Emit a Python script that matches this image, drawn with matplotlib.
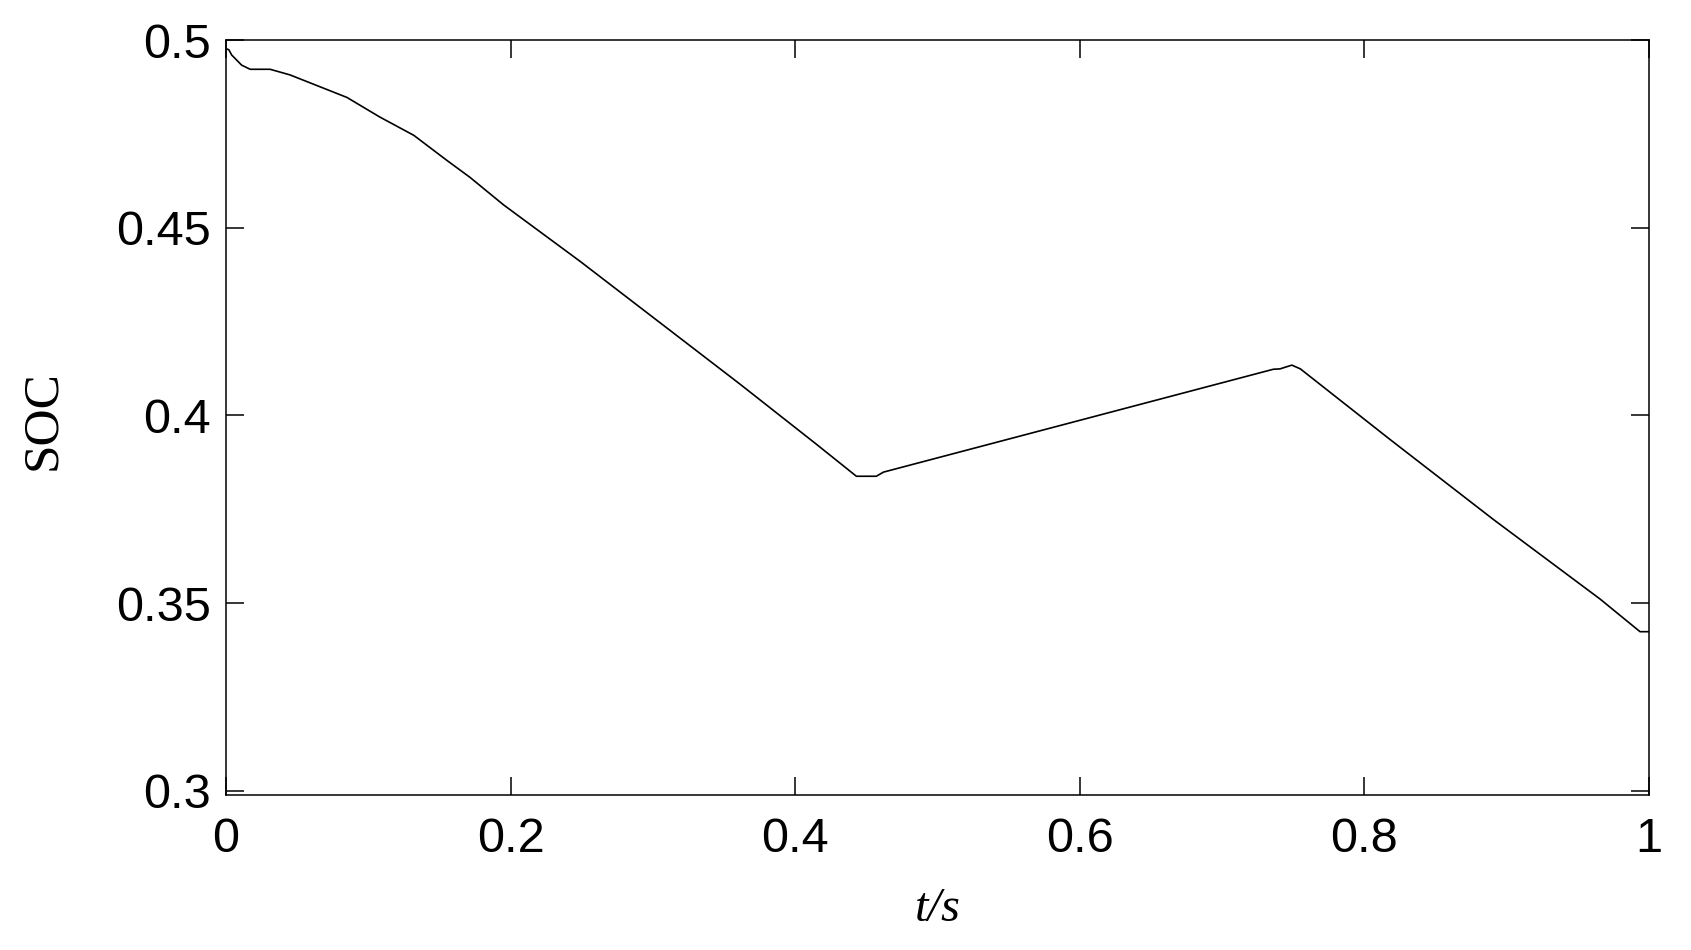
import matplotlib
matplotlib.use("Agg")
import matplotlib.pyplot as plt

# SOC curve, values
t = [0.0, 0.002, 0.004, 0.011, 0.017, 0.031, 0.045, 0.061, 0.085, 0.108,
     0.132, 0.155, 0.1715, 0.195, 0.249, 0.305, 0.361, 0.415, 0.443, 0.457,
     0.462, 0.586, 0.736, 0.7407, 0.749, 0.755, 0.818, 0.8906, 0.9656,
     0.9937, 1.0]
soc = [0.4977, 0.4974, 0.4960, 0.4933, 0.4922, 0.4922, 0.4907, 0.4883,
       0.4847, 0.4795, 0.4746, 0.4680, 0.4634, 0.4561, 0.4410, 0.4247,
       0.4084, 0.3923, 0.3838, 0.3838, 0.3849, 0.3973, 0.4123, 0.4124,
       0.4134, 0.4124, 0.3936, 0.3723, 0.3511, 0.3424, 0.3424]

xticks = [0, 0.2, 0.4, 0.6, 0.8, 1.0]
xticklabels = ["0", "0.2", "0.4", "0.6", "0.8", "1"]
yticks = [0.3, 0.35, 0.4, 0.45, 0.5]
yticklabels = ["0.3", "0.35", "0.4", "0.45", "0.5"]

fig = plt.figure(figsize=(16.91, 9.5), dpi=100)
ax = fig.add_axes([226 / 1691, 155 / 950, 1423 / 1691, 755 / 950])

ax.plot(t, soc, color="black", lw=1.2)

ax.set_xlim(0, 1)
ax.set_ylim(0.2989, 0.5)
ax.set_xticks(xticks)
ax.set_xticklabels(xticklabels, family="Liberation Sans", fontsize=35)
ax.set_yticks(yticks)
ax.set_yticklabels(yticklabels, family="Liberation Sans", fontsize=35)

ax.tick_params(direction="in", top=True, right=True, length=13, width=1.1)
ax.tick_params(axis="x", pad=16)
ax.tick_params(axis="y", pad=11)
for sp in ax.spines.values():
    sp.set_linewidth(1.1)

ax.set_xlabel("t/s", family="Liberation Serif", style="italic", fontsize=35,
              va="center")
ax.xaxis.set_label_coords(0.5, -0.151)
ax.set_ylabel("SOC", family="Liberation Serif", fontsize=37, va="center")
ax.yaxis.set_label_coords(-0.1286, 0.497)

fig.savefig("out.png", dpi=100, facecolor="white")
